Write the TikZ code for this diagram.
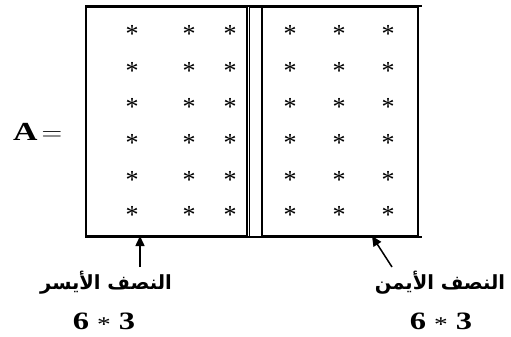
\documentclass[tikz,border=0pt]{standalone}
\usepackage{fontspec}
\setmainfont{Liberation Serif}
\newfontfamily\arabicfont[Script=Arabic]{DejaVu Sans}
\TeXXeTstate=1
\usetikzlibrary{arrows.meta}
\newcommand{\midstar}{\raisebox{-2.5pt}{\mdseries\fontsize{21}{21}\selectfont *}}
\begin{document}
\begin{tikzpicture}[x=1pt,y=-1pt,
  halfbox/.style={draw, line width=1.8pt, inner sep=0pt, minimum height=229pt},
  stripbox/.style={draw, line width=0.6pt, inner sep=0pt, minimum height=229pt, minimum width=12pt},
  entry/.style={anchor=base, inner sep=0pt, font=\fontsize{26}{26}\selectfont},
  arlabel/.style={inner sep=0pt, font=\arabicfont\bfseries\fontsize{19.5}{22}\selectfont},
  dims/.style={anchor=base, inner sep=0pt, font=\bfseries\fontsize{25}{25}\selectfont},
  pointer/.style={line width=1.5pt, -{Triangle[length=10pt,width=9pt]}}]
\useasboundingbox (0,0) rectangle (511,337);

% the two halves of the matrix and the narrow strip between them
\node[halfbox, minimum width=161pt] (lbox) at (166.5,121.5) {};
\node[stripbox] (strip) at (255,121.5) {};
\node[halfbox, minimum width=156pt] (rbox) at (340,121.5) {};
\draw[line width=1.8pt] (lbox.north west) -- ([xshift=3pt]rbox.north east);
\draw[line width=1.8pt] (lbox.south west) -- ([xshift=3pt]rbox.south east);

% entries: six rows, three columns on each side
\foreach \r/\yy in {1/32,2/68,3/104,4/140,5/177,6/212}{
  \foreach \c/\xx in {1/132,2/189,3/230,4/290,5/339,6/388}{
    \node[entry] (e\r\c) at (\xx,\yy+11) {*};
  }
}

\node[anchor=base west, inner sep=0pt, font=\bfseries\fontsize{26}{26}\selectfont] (A) at (13,140) {\scalebox{1.3}[1]{A}\hspace{4pt}\scalebox{1.15}[1]{$=$}};

% labels under the halves
\node[arlabel] (llab) at (106,283) {\beginR النصف الأيسر\endR};
\node[dims] (ldim) at (104,329) {\scalebox{1.3}[1]{6 \midstar{} 3}};
\node[arlabel] (rlab) at (440,283) {\beginR النصف الأيمن\endR};
\node[dims] (rdim) at (441,329) {\scalebox{1.3}[1]{6 \midstar{} 3}};

% pointers from the labels to the halves
\coordinate (ltail) at (140,267);
\coordinate (ltip) at (140,236);
\coordinate (rtail) at (392,267);
\coordinate (rtip) at (372,236);
\draw[pointer] (ltail) -- (ltip);
\draw[pointer] (rtail) -- (rtip);
\end{tikzpicture}
\end{document}
